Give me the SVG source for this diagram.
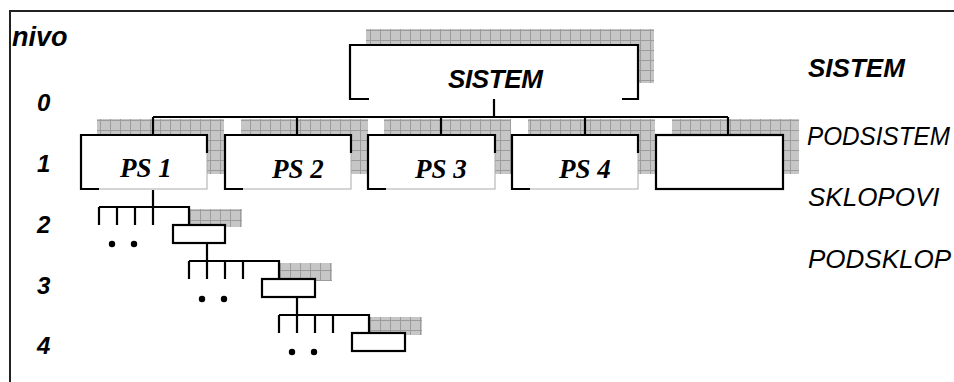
<svg xmlns="http://www.w3.org/2000/svg" width="954" height="382" viewBox="0 0 954 382">
<defs>
<pattern id="grid" patternUnits="userSpaceOnUse" width="10" height="10" x="0" y="0">
<rect width="10" height="10" fill="#c6c6c6"/>
<path d="M0 0.5H10M0.5 0V10" stroke="#9c9c9c" stroke-width="1"/>
</pattern>
<style>
.sh{fill:url(#grid)}
.box{fill:#fff;stroke:#aaa;stroke-width:1}
.bd{fill:none;stroke:#000;stroke-width:2.2}
.sb{fill:#fff;stroke:#000;stroke-width:2.2}
.ln{fill:none;stroke:#000;stroke-width:2.2}
.ps{font-family:"Liberation Serif",serif;font-weight:bold;font-style:italic;font-size:27px;fill:#000}
.sa{font-family:"Liberation Sans",Arial,sans-serif;font-style:italic;font-size:26px;fill:#000}
.b{font-weight:bold}
.lv{font-family:"Liberation Sans",Arial,sans-serif;font-style:italic;font-weight:bold;font-size:24px;fill:#000}
</style>
</defs>
<rect width="954" height="382" fill="#fff"/>
<path d="M10 382V11H954" fill="none" stroke="#222" stroke-width="2"/>

<g id="labels">
<text class="lv" x="12" y="46" style="font-size:27px">nivo</text>
<text class="lv" x="37" y="111">0</text>
<text class="lv" x="37" y="172">1</text>
<text class="lv" x="37" y="233">2</text>
<text class="lv" x="37" y="294">3</text>
<text class="lv" x="37" y="354">4</text>
<text class="sa b" x="808" y="77">SISTEM</text>
<text class="sa" x="807" y="145" style="font-size:25px" textLength="143" lengthAdjust="spacingAndGlyphs">PODSISTEM</text>
<text class="sa" x="808" y="206">SKLOPOVI</text>
<text class="sa" x="808" y="268">PODSKLOP</text>
</g>

<g id="shadows">
<rect class="sh" x="366" y="29" width="288" height="54"/>
<rect class="sh" x="97" y="119" width="127" height="55"/>
<rect class="sh" x="241" y="119" width="127" height="55"/>
<rect class="sh" x="384" y="119" width="127" height="55"/>
<rect class="sh" x="528" y="119" width="127" height="55"/>
<rect class="sh" x="672" y="119" width="127" height="55"/>
<rect class="sh" x="189" y="209" width="53" height="18"/>
<rect class="sh" x="279" y="263" width="53" height="18"/>
<rect class="sh" x="369" y="317" width="53" height="18"/>
</g>

<g id="connectors">
<path class="ln" d="M494 99V117M153 117H728M153 117V135M297 117V135M441 117V135M585 117V135M728 117V135"/>
<path class="ln" d="M153 190V207M99 207H189V225M99 207V225M117 207V225M135 207V225M153 207V225"/>
<path class="ln" d="M207 243V261M189 261H279V279M189 261V279M207 261V279M225 261V279M243 261V279"/>
<path class="ln" d="M297 297V315M279 315H369V333M279 315V333M297 315V333M315 315V333M333 315V333"/>
<g fill="#000">
<circle cx="112" cy="244" r="3.2"/><circle cx="134" cy="244" r="3.2"/>
<circle cx="202" cy="299" r="3.2"/><circle cx="224" cy="299" r="3.2"/>
<circle cx="292" cy="352" r="3.2"/><circle cx="314" cy="352" r="3.2"/>
</g>
</g>

<g id="sistem">
<rect x="350" y="45" width="288" height="54" fill="#fff"/>
<path class="bd" d="M369 99H350V45H638V99H622"/>
<text class="sa b" x="448" y="88" textLength="95">SISTEM</text>
</g>

<g id="ps1">
<rect class="box" x="81" y="135" width="126" height="54"/>
<path class="bd" d="M99 189H81V135H207V153"/>
<text class="ps" x="120" y="177">PS 1</text>
</g>
<g id="ps2">
<rect class="box" x="225" y="135" width="126" height="54"/>
<path class="bd" d="M243 189H225V135H351V153"/>
<text class="ps" x="272" y="178">PS 2</text>
</g>
<g id="ps3">
<rect class="box" x="368" y="135" width="127" height="54"/>
<path class="bd" d="M386 189H368V135H495V153"/>
<text class="ps" x="415" y="178">PS 3</text>
</g>
<g id="ps4">
<rect class="box" x="512" y="135" width="126" height="54"/>
<path class="bd" d="M530 189H512V135H638V153"/>
<text class="ps" x="559" y="178">PS 4</text>
</g>
<g id="ps5">
<rect class="sb" x="656" y="135" width="127" height="54"/>
</g>

<g id="sklop">
<rect class="sb" x="173" y="225" width="52" height="18"/>
</g>
<g id="podsklop1">
<rect class="sb" x="262" y="279" width="53" height="18"/>
</g>
<g id="podsklop2">
<rect class="sb" x="352" y="333" width="53" height="18"/>
</g>
</svg>
